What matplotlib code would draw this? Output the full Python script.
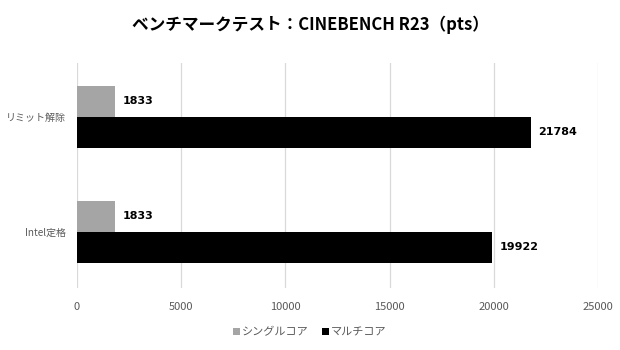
import numpy as np
import matplotlib
matplotlib.use("Agg")
import matplotlib.pyplot as plt
import matplotlib.ticker as mticker

plt.rcParams['font.family'] = ['Noto Sans CJK JP', 'DejaVu Sans']

# data
categories = ["Intel定格", "リミット解除"]
single_core = [1833, 1833]
multi_core = [19922, 21784]
series_names = ["シングルコア", "マルチコア"]
title = "ベンチマークテスト：CINEBENCH R23（pts）"

fig = plt.figure(figsize=(6.2, 3.5), dpi=100)
ax = fig.add_axes([0.124, 0.177, 0.8405, 0.643])

y = np.arange(len(categories))
h = 0.27
b1 = ax.barh(y + h / 2, single_core, height=h, color="#a5a5a5", label=series_names[0])
b2 = ax.barh(y - h / 2, multi_core, height=h, color="#000000", label=series_names[1])

# value labels at bar ends
for bars in (b1, b2):
    for rect in bars:
        w = rect.get_width()
        ax.text(w + 350, rect.get_y() + rect.get_height() / 2, f"{int(w)}",
                va="center", ha="left", fontsize=8, fontweight="bold",
                family=["DejaVu Sans"])

ax.set_xlim(0, 25000)
ax.set_ylim(-0.49, 1.47)
ax.xaxis.set_major_locator(mticker.MultipleLocator(5000))
ax.set_yticks(y)
ax.set_yticklabels(categories)
ax.tick_params(axis="both", length=0, labelsize=8, labelcolor="#595959")
ax.tick_params(axis="x", pad=10)
ax.tick_params(axis="y", pad=8, labelsize=7.2)
for s in ax.spines.values():
    s.set_visible(False)
ax.grid(axis="x", color="#d9d9d9", lw=0.9)
ax.set_axisbelow(True)

fig.suptitle(title, x=0.5, y=0.955, fontsize=12, fontweight="bold")

leg = fig.legend(handles=[b1, b2], loc="center", bbox_to_anchor=(0.5, 0.05),
                 ncol=2, frameon=False, fontsize=8, handlelength=0.6,
                 handleheight=0.6, handletextpad=0.2, columnspacing=1.2)
for t in leg.get_texts():
    t.set_color("#595959")

fig.savefig("out.png", dpi=100)
